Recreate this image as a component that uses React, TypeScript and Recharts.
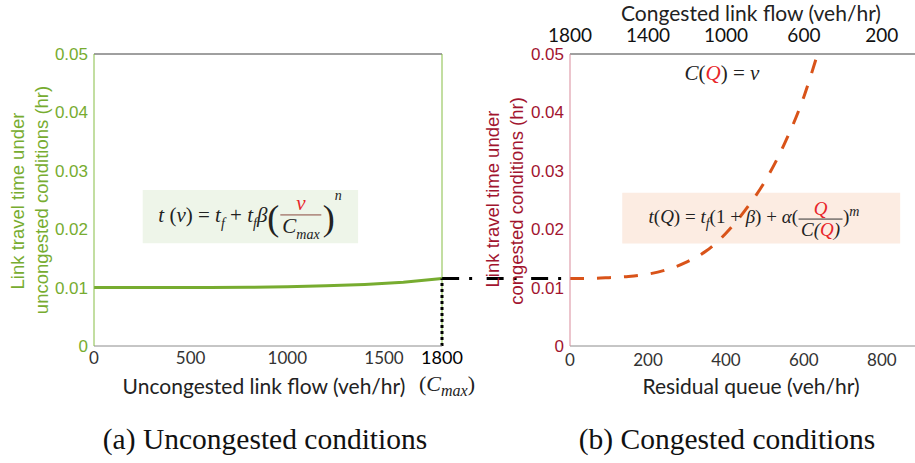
import React from "react";
import {
  LineChart, Line, XAxis, YAxis, ReferenceLine, ReferenceArea,
} from "recharts";

// (a) uncongested: flow (veh/hr) vs travel time (hr)
const uncongFlow = [0, 200, 400, 600, 800, 1000, 1200, 1400, 1600, 1800];
const uncongTime = [0.01, 0.01, 0.01, 0.01002, 0.01006, 0.01014, 0.0103, 0.01055, 0.0109, 0.01155];

// (b) congested: residual queue (veh/hr) vs travel time (hr)
const queue = [0, 50, 100, 150, 200, 250, 300, 350, 400, 450, 500, 550, 600, 635];
const congTime = [0.01156, 0.01157, 0.0117, 0.0119, 0.0123, 0.0131, 0.0144, 0.0163, 0.0193, 0.0233, 0.0282, 0.0346, 0.0427, 0.05];

const leftXTicks = [0, 500, 1000, 1500, 1800];
const rightXTicks = [0, 200, 400, 600, 800];
const topFlowTicks = [1800, 1400, 1000, 600, 200];
const yTicks = [0, 0.01, 0.02, 0.03, 0.04, 0.05];

const capacity = 1800;
const breakTime = 0.01155;

const uncongData = uncongFlow.map((v, i) => ({ v, t: uncongTime[i] }));
const congData = queue.map((q, i) => ({ q, t: congTime[i] }));
// top axis: congested flow = capacity - 2 * queue
const topTickPos = topFlowTicks.map((f) => (capacity - f) / 2);

const GREEN = "#77ac30";
const GREEN_AXIS = "#86bd45";
const RED = "#a2142f";
const RED_AXIS = "#d98b9b";
const ORANGE = "#d95319";
const SANS = "'Liberation Sans', Arial, sans-serif";
const LABEL = "Lato, 'Open Sans', sans-serif";
const SERIF = "'Liberation Serif', 'Times New Roman', serif";

function Txt({ x, y, rotate, style, children }: any) {
  return (
    <div
      style={{
        position: "absolute", left: x, top: y, whiteSpace: "nowrap", lineHeight: 1,
        transform: `translate(-50%, -50%)${rotate ? " rotate(-90deg)" : ""}`,
        ...style,
      }}
    >
      {children}
    </div>
  );
}

function Frac({ num, den, color }: any) {
  return (
    <span style={{ display: "inline-flex", flexDirection: "column", alignItems: "center", verticalAlign: "middle", margin: "0 1px" }}>
      <span style={{ color: "#e8262a", padding: "0 2px", lineHeight: 1.05 }}>{num}</span>
      <span style={{ borderTop: `1px solid ${color}`, padding: "0 2px", lineHeight: 1.05 }}>{den}</span>
    </span>
  );
}

function LeftTick({ x, y, payload }: any) {
  const last = payload.value === capacity;
  return (
    <text x={x} y={y + 10} textAnchor="middle" fontFamily={LABEL} fontSize={last ? 18 : 17} fill={last ? "#000" : "#333"}>
      {payload.value}
    </text>
  );
}

const sub = { fontSize: 14 };

export default function App() {
  const mathStyle = { fontFamily: SERIF, fontStyle: "italic", fontSize: 20, color: "#222" };
  return (
    <div style={{ position: "absolute", left: 0, top: 0, width: 915, height: 463, background: "#fff", overflow: "hidden" }}>
      <div style={{ position: "absolute", left: 0, top: 0 }}>
        <LineChart width={470} height={400} data={uncongData} margin={{ top: 54, right: 28, bottom: 24, left: 0 }}>
          <XAxis dataKey="v" type="number" domain={[0, capacity]} ticks={leftXTicks} interval={0}
            height={30} tickLine={false} axisLine={{ stroke: "#8c8c8c" }} tick={<LeftTick />} />
          <YAxis type="number" domain={[0, 0.05]} ticks={yTicks} width={94} tickLine={false} tickSize={4}
            axisLine={{ stroke: GREEN_AXIS }} tick={{ fill: GREEN, fontSize: 17, fontFamily: SANS }} />
          <ReferenceArea x1={252} x2={1366} y1={0.0176} y2={0.0267} fill="#eef5e9" fillOpacity={1} stroke="none" />
          <ReferenceLine y={0.05} stroke="#404040" />
          <ReferenceLine x={capacity} stroke={GREEN_AXIS} />
          <Line dataKey="t" stroke={GREEN} strokeWidth={3} dot={false} isAnimationActive={false} />
          <ReferenceLine segment={[{ x: capacity, y: 0 }, { x: capacity, y: breakTime }]}
            stroke="#000" strokeWidth={3} strokeDasharray="3 3" ifOverflow="visible" />
        </LineChart>
      </div>

      <div style={{ position: "absolute", left: 430, top: 0 }}>
        <LineChart width={485} height={400} data={congData} margin={{ top: 0, right: 0, bottom: 24, left: 60 }}>
          <XAxis dataKey="q" type="number" domain={[0, 885]} ticks={rightXTicks} interval={0}
            height={30} tickLine={false} axisLine={{ stroke: "#8c8c8c" }}
            tick={{ fill: "#333", fontSize: 17, fontFamily: LABEL }} />
          <XAxis xAxisId="top" dataKey="q" orientation="top" type="number" domain={[0, 885]}
            ticks={topTickPos} interval={0} height={54} tickLine={false} tickMargin={6} axisLine={{ stroke: "#404040" }}
            tickFormatter={(q: number) => String(capacity - 2 * q)}
            tick={{ fill: "#111", fontSize: 19, fontFamily: LABEL }} />
          <YAxis type="number" domain={[0, 0.05]} ticks={yTicks} width={80} tickLine={false} tickSize={4}
            axisLine={{ stroke: RED_AXIS }} tick={{ fill: RED, fontSize: 17, fontFamily: SANS }} />
          <ReferenceArea x1={134} x2={847} y1={0.01757} y2={0.02625} fill="#fcece2" fillOpacity={1} stroke="none" />
          <ReferenceLine segment={[{ x: -328, y: breakTime }, { x: 0, y: breakTime }]}
            stroke="#000" strokeWidth={3} strokeDasharray="17 10 3 14.5" ifOverflow="visible" />
          <Line xAxisId="top" dataKey="t" stroke="none" dot={false} legendType="none" isAnimationActive={false} />
          <Line dataKey="t" type="monotone" stroke={ORANGE} strokeWidth={3} strokeDasharray="14 13" dot={false} isAnimationActive={false} />
        </LineChart>
      </div>

      <div style={{ position: "absolute", left: 0, top: 0, width: 915, height: 463, pointerEvents: "none" }}>
        {/* axis titles */}
        <Txt x={18} y={201} rotate style={{ color: GREEN, fontFamily: SANS, fontSize: 18.5 }}>Link travel time under</Txt>
        <Txt x={42} y={200} rotate style={{ color: GREEN, fontFamily: SANS, fontSize: 18.5 }}>uncongested conditions (hr)</Txt>
        <Txt x={493} y={199} rotate style={{ color: RED, fontFamily: SANS, fontSize: 18.5 }}>Link travel time under</Txt>
        <Txt x={517} y={201} rotate style={{ color: RED, fontFamily: SANS, fontSize: 18.5 }}>congested conditions (hr)</Txt>
        <Txt x={264} y={385} style={{ color: "#222", fontFamily: LABEL, fontSize: 21 }}>Uncongested link flow (veh/hr)</Txt>
        <Txt x={751} y={385} style={{ color: "#222", fontFamily: LABEL, fontSize: 21 }}>Residual queue (veh/hr)</Txt>
        <Txt x={751} y={12} style={{ color: "#222", fontFamily: LABEL, fontSize: 21 }}>Congested link flow (veh/hr)</Txt>
        <Txt x={447} y={386} style={{ ...mathStyle, fontSize: 22 }}>
          <span style={{ fontStyle: "normal" }}>(</span>C<sub style={{ fontSize: 16 }}>max</sub><span style={{ fontStyle: "normal" }}>)</span>
        </Txt>

        {/* equations */}
        <Txt x={250} y={216} style={{ ...mathStyle, fontSize: 21 }}>
          t<span style={{ fontStyle: "normal" }}> (</span>v<span style={{ fontStyle: "normal" }}>) = </span>t<sub style={sub}>f</sub>
          <span style={{ fontStyle: "normal" }}> + </span>t<sub style={sub}>f</sub>β
          <span style={{ fontStyle: "normal", fontSize: 36, verticalAlign: "middle" }}>(</span>
          <Frac num="v" den={<span>C<sub style={sub}>max</sub></span>} color="#8a4a40" />
          <span style={{ fontStyle: "normal", fontSize: 36, verticalAlign: "middle" }}>)</span>
          <sup style={{ fontSize: 14, verticalAlign: 22 }}>n</sup>
        </Txt>
        <Txt x={754} y={219} style={{ ...mathStyle, fontSize: 19 }}>
          t<span style={{ fontStyle: "normal" }}>(</span>Q<span style={{ fontStyle: "normal" }}>) = </span>t<sub style={sub}>f</sub>
          <span style={{ fontStyle: "normal" }}>(1 + </span>β<span style={{ fontStyle: "normal" }}>) + </span>α<span style={{ fontStyle: "normal" }}>(</span>
          <Frac num="Q" den={<span><span style={{ fontStyle: "italic" }}>C</span>(<span style={{ color: "#e8262a" }}>Q</span>)</span>} color="#333" />
          <span style={{ fontStyle: "normal" }}>)</span>
          <sup style={{ fontSize: 14 }}>m</sup>
        </Txt>
        <Txt x={722} y={73} style={{ ...mathStyle, fontSize: 21 }}>
          C<span style={{ fontStyle: "normal" }}>(</span><span style={{ color: "#e8262a" }}>Q</span><span style={{ fontStyle: "normal" }}>) = </span>v
        </Txt>

        {/* captions */}
        <Txt x={265} y={440} style={{ fontFamily: SERIF, fontSize: 29.5, color: "#111" }}>(a) Uncongested conditions</Txt>
        <Txt x={727} y={440} style={{ fontFamily: SERIF, fontSize: 29.5, color: "#111" }}>(b) Congested conditions</Txt>
      </div>
    </div>
  );
}
